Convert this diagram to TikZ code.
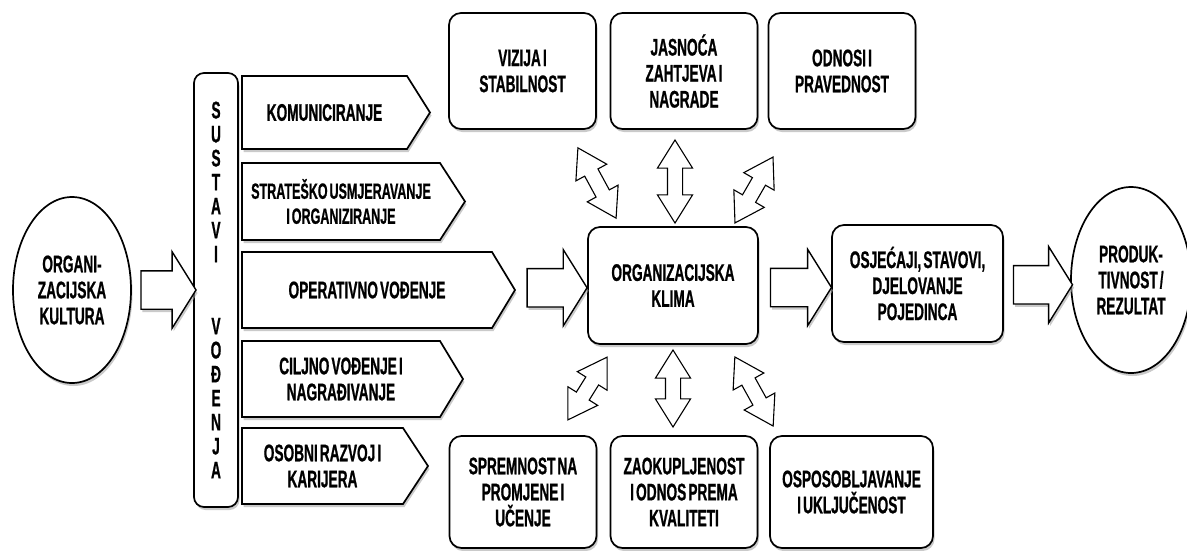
\documentclass[tikz,border=0pt]{standalone}
\usepackage{fontspec}
\setmainfont{Liberation Sans}[FakeStretch=0.57,WordSpace=0.55,BoldFeatures={FakeBold=0.8}]
\usetikzlibrary{shapes.geometric,shapes.arrows,shadows,calc}

\tikzset{
  boxshadow/.style={drop shadow={shadow xshift=1.5pt,shadow yshift=-3pt,fill=black!35,opacity=.6}},
  lbl/.style={font=\bfseries\fontsize{24}{26}\selectfont, align=center},
  rbox/.style={lbl, draw, fill=white, line width=1.7pt, rounded corners=12pt, inner sep=2pt, boxshadow},
  oval/.style={lbl, ellipse, draw, fill=white, line width=1.7pt, inner sep=0pt, boxshadow},
  pent/.style={draw, fill=white, line width=1.7pt, boxshadow},
  fatarrow/.style={single arrow, draw, fill=white, line width=1.4pt, inner xsep=0pt, inner ysep=18.5pt,
    minimum width=75pt, single arrow head extend=19pt, single arrow tip angle=116, boxshadow},
  twoarrow/.style={double arrow, draw, fill=white, line width=1.1pt, inner xsep=0pt, inner ysep=7pt,
    minimum width=34pt, double arrow head extend=10pt, double arrow tip angle=64}
}

% style, name, left, top, bottom, shoulder, tip, text
\newcommand{\pentbox}[8][]{%
  \draw[pent] (#3,#4) -- (#6,#4) -- (#7,{(#4+#5)/2}) -- (#6,#5) -- (#3,#5) -- cycle;
  \coordinate (#2tip) at (#7,{(#4+#5)/2});
  \node[lbl,#1] (#2) at ({(#3+#6)/2},{(#4+#5)/2}) {#8};
}

\begin{document}
\begin{tikzpicture}[x=1pt,y=-1pt]
    \useasboundingbox (0,0) rectangle (1187,550);

    \node[oval, minimum width=118pt, minimum height=186pt] (org) at (72,290) {ORGANI-\\ZACIJSKA\\KULTURA};

    \node[rbox, rounded corners=10pt, minimum width=44pt, minimum height=434pt,
      font=\bfseries\fontsize{24}{24}\selectfont] (sustavi) at (216,290)
      {S\\U\\S\\T\\A\\V\\I\\~\\~\\V\\O\\Đ\\E\\N\\J\\A};

    \pentbox{kom}{242}{76}{149}{407}{430}{KOMUNICIRANJE}
    \pentbox[font=\bfseries\fontsize{22}{25}\selectfont]{strat}{242}{163}{240}{440}{465}{STRATEŠKO USMJERAVANJE\\I ORGANIZIRANJE}
    \pentbox{oper}{242}{252}{328}{492}{515}{OPERATIVNO VOĐENJE}
    \pentbox{cilj}{242}{341}{417}{440}{463}{CILJNO VOĐENJE I\\NAGRAĐIVANJE}
    \pentbox{osob}{242}{428}{504}{403}{428}{OSOBNI RAZVOJ I\\KARIJERA}

    \node[rbox, minimum width=170pt, minimum height=117pt] (klima) at (673,285.5) {ORGANIZACIJSKA\\KLIMA};

    \node[rbox, minimum width=147pt, minimum height=116pt] (vizija) at (522.5,71) {VIZIJA I\\STABILNOST};
    \node[rbox, minimum width=147pt, minimum height=116pt] (jasnoca) at (684,71) {JASNOĆA\\ZAHTJEVA I\\NAGRADE};
    \node[rbox, minimum width=147pt, minimum height=116pt] (odnosi) at (842,71) {ODNOSI I\\PRAVEDNOST};

    \node[rbox, minimum width=147pt, minimum height=112pt] (spremnost) at (523,492) {SPREMNOST NA\\PROMJENE I\\UČENJE};
    \node[rbox, minimum width=147pt, minimum height=112pt] (zaokup) at (684,492) {ZAOKUPLJENOST\\I ODNOS PREMA\\KVALITETI};
    \node[rbox, minimum width=163pt, minimum height=112pt] (osposob) at (851.5,492) {OSPOSOBLJAVANJE\\I UKLJUČENOST};

    \node[rbox, minimum width=171pt, minimum height=117pt] (osjecaji) at (917.5,283.5) {OSJEĆAJI, STAVOVI,\\DJELOVANJE\\POJEDINCA};

    \node[oval, minimum width=120pt, minimum height=186pt] (prod) at (1131,280) {PRODUK-\\TIVNOST /\\REZULTAT};

    \node[fatarrow, minimum height=55pt] (a1) at ($(org.east)!.5!(sustavi.west)$) {};
    \node[fatarrow, minimum height=60pt] (a2) at ($(opertip)!.5!(klima.west)$) {};
    \node[fatarrow, minimum height=61pt] (a3) at ($(klima.east)!.5!(osjecaji.west)+(0,3)$) {};
    \node[fatarrow, minimum height=59pt] (a4) at ($(osjecaji.east)!.5!(prod.west)+(0,3)$) {};

    \node[twoarrow, minimum height=80pt, rotate=-61.5] (d1) at (597,183) {};
    \node[twoarrow, minimum height=83pt, rotate=90] (d2) at (675,181.5) {};
    \node[twoarrow, minimum height=76pt, rotate=60] (d3) at (754,190) {};
    \node[twoarrow, minimum height=74pt, rotate=58] (d4) at (587.5,388.5) {};
    \node[twoarrow, minimum height=77pt, rotate=90] (d5) at (673,388.5) {};
    \node[twoarrow, minimum height=79pt, rotate=-61] (d6) at (754,391.5) {};
\end{tikzpicture}
\end{document}
